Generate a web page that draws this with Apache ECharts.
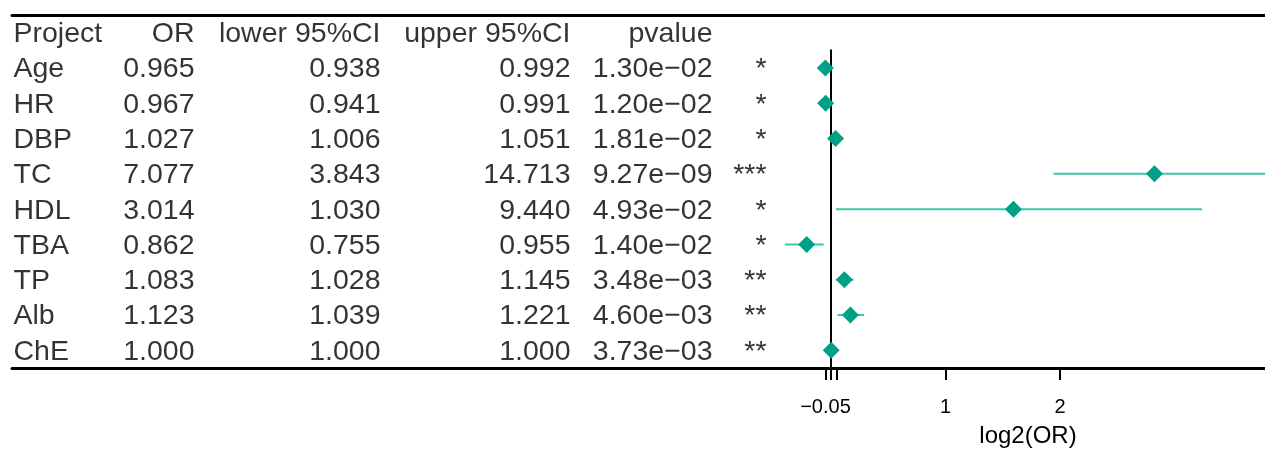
<!DOCTYPE html>
<html>
<head>
<meta charset="utf-8">
<script src="https://cdn.jsdelivr.net/npm/echarts@6/dist/echarts.min.js"></script>
<style>html,body{margin:0;padding:0;background:#fff;}#c{width:1265px;height:449px;}</style>
</head>
<body>
<div id="c"></div>
<script>
// ---- data ----
const projects = ['Age','HR','DBP','TC','HDL','TBA','TP','Alb','ChE'];
const orVals   = [0.965, 0.967, 1.027, 7.077, 3.014, 0.862, 1.083, 1.123, 1.000];
const lowerCI  = [0.938, 0.941, 1.006, 3.843, 1.030, 0.755, 1.028, 1.039, 1.000];
const upperCI  = [0.992, 0.991, 1.051, 14.713, 9.440, 0.955, 1.145, 1.221, 1.000];
const pvalues  = ['1.30e-02','1.20e-02','1.81e-02','9.27e-09','4.93e-02','1.40e-02','3.48e-03','4.60e-03','3.73e-03'];
const stars    = ['*','*','*','***','*','*','**','**','**'];
const headers  = ['Project','OR','lower 95%CI','upper 95%CI','pvalue',''];
const xTickValues  = [-0.05, 0, 0.05, 1, 2];
const xLabelValues = [-0.05, 1, 2];
const xAxisTitle = 'log2(OR)';

// ---- layout (positions / styles) ----
const colAnchor = [13, 195, 381, 571, 713, 767];
const colAlign  = ['left','right','right','right','right','right'];
const FONT = 'Liberation Sans, Arial, sans-serif';
const FS = 28.5;
const diamondColor = '#00A087';
const ciColor = '#3CC6AB';

const fmtNum = v => v.toFixed(3);
const minus = s => String(s).replace(/-/g, '\u2212');

const columns = [
  projects,
  orVals.map(fmtNum),
  lowerCI.map(fmtNum),
  upperCI.map(fmtNum),
  pvalues.map(minus),
  stars
];

const tableSeries = [];
columns.forEach((col, c) => {
  const data = [[colAnchor[c], 0, headers[c]]];
  col.forEach((t, i) => data.push([colAnchor[c], i + 1, t]));
  tableSeries.push({
    type: 'scatter', xAxisIndex: 0, yAxisIndex: 0,
    symbolSize: 1, itemStyle: { color: 'rgba(0,0,0,0)' },
    data: data,
    label: {
      show: true,
      position: colAlign[c] === 'left' ? 'right' : 'left',
      distance: 0,
      offset: [0, 1.5],
      formatter: p => p.value[2],
      color: '#000', fontFamily: FONT, fontSize: FS
    }
  });
});

const ciData = projects.map((p, i) => [Math.log2(lowerCI[i]), Math.log2(upperCI[i]), i]);
const ptData = projects.map((p, i) => [Math.log2(orVals[i]), i]);

const chart = echarts.init(document.getElementById('c'), null, { renderer: 'canvas' });
chart.setOption({
  animation: false,
  backgroundColor: '#fff',
  grid: [
    { left: 12, right: 0, top: 15, bottom: 81, outerBoundsMode: 'none', containLabel: false },
    { left: 762.5, right: 0, top: 50.3, bottom: 81, outerBoundsMode: 'none', containLabel: false }
  ],
  xAxis: [
    { gridIndex: 0, type: 'value', min: 12, max: 1265, position: 'top',
      axisLine: { show: true, lineStyle: { color: '#000', width: 3 } },
      axisTick: { show: false }, axisLabel: { show: false }, splitLine: { show: false } },
    { gridIndex: 0, type: 'value', min: 12, max: 1265, position: 'bottom',
      axisLine: { show: true, lineStyle: { color: '#000', width: 3 } },
      axisTick: { show: false }, axisLabel: { show: false }, splitLine: { show: false } },
    { gridIndex: 1, type: 'value', min: -0.6, max: 3.789, position: 'bottom',
      axisLine: { show: false, onZero: false },
      axisTick: { show: true, length: 12, customValues: xTickValues,
        lineStyle: { color: '#000', width: 2 } },
      axisLabel: { show: true, customValues: xLabelValues, margin: 29,
        formatter: v => minus(v), color: '#000', fontFamily: FONT, fontSize: 20 },
      splitLine: { show: false },
      name: xAxisTitle, nameLocation: 'middle', nameGap: 56,
      nameTextStyle: { color: '#000', fontFamily: FONT, fontSize: 24, padding: [0, 0, 0, 28.5] } }
  ],
  yAxis: [
    { gridIndex: 0, type: 'category', inverse: true, data: ['header'].concat(projects), show: false },
    { gridIndex: 1, type: 'category', inverse: true, data: projects,
      axisLine: { show: true, onZero: true, lineStyle: { color: '#000', width: 2 } },
      axisTick: { show: false }, axisLabel: { show: false }, splitLine: { show: false } }
  ],
  series: tableSeries.concat([
    {
      type: 'custom', xAxisIndex: 2, yAxisIndex: 1, clip: true,
      data: ciData,
      encode: { x: [0, 1], y: 2 },
      renderItem: (params, api) => {
        const a = api.coord([api.value(0), api.value(2)]);
        const b = api.coord([api.value(1), api.value(2)]);
        return { type: 'line', shape: { x1: a[0], y1: a[1], x2: b[0], y2: b[1] },
          style: { stroke: ciColor, lineWidth: 2 } };
      }
    },
    {
      type: 'scatter', xAxisIndex: 2, yAxisIndex: 1,
      symbol: 'diamond', symbolSize: 17,
      itemStyle: { color: diamondColor, opacity: 1 },
      data: ptData, z: 5
    }
  ])
});
</script>
</body>
</html>
